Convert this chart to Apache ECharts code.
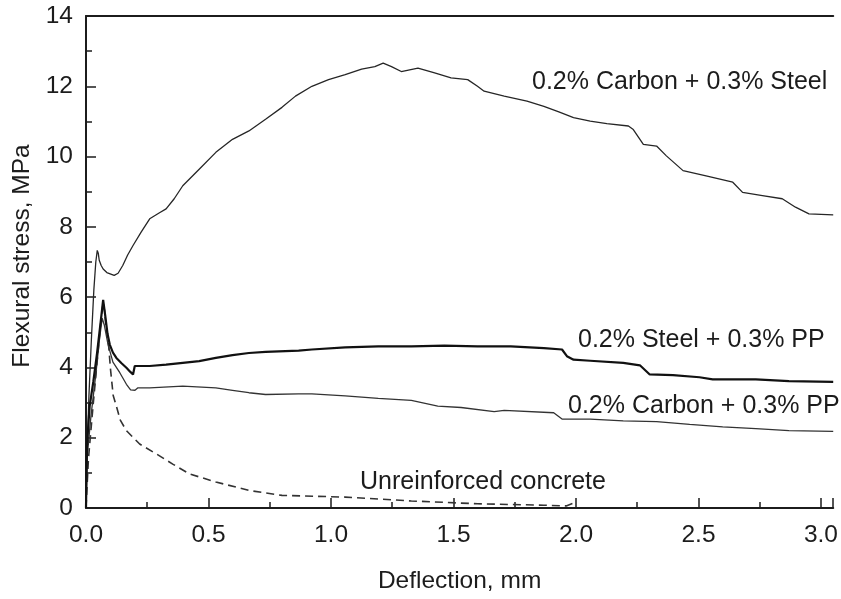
<!DOCTYPE html>
<html>
<head>
<meta charset="utf-8">
<script src="https://cdn.jsdelivr.net/npm/echarts@6/dist/echarts.min.js"></script>
<style>
  html, body { margin: 0; padding: 0; background: #fff; }
  #chart { width: 841px; height: 599px; }
</style>
</head>
<body>
<div id="chart"></div>
<script>
// Flexural stress vs. deflection for four fibre mixes, [deflection mm, stress MPa]
const carbonSteel = [
  [0,0],[0.004,1.5],[0.012,3.2],[0.022,4.8],[0.032,6.2],[0.04,7.0],[0.046,7.33],[0.05,7.25],
  [0.054,7.05],[0.062,6.9],[0.07,6.8],[0.085,6.7],[0.104,6.65],[0.115,6.62],[0.131,6.68],
  [0.15,6.9],[0.17,7.2],[0.192,7.47],[0.225,7.85],[0.26,8.23],[0.3,8.4],[0.327,8.51],
  [0.36,8.8],[0.395,9.17],[0.462,9.64],[0.53,10.12],[0.598,10.49],[0.665,10.73],[0.733,11.06],
  [0.80,11.4],[0.855,11.72],[0.922,12.0],[0.99,12.19],[1.058,12.33],[1.125,12.49],[1.179,12.56],
  [1.213,12.66],[1.247,12.56],[1.287,12.42],[1.355,12.52],[1.423,12.38],[1.49,12.24],[1.558,12.19],
  [1.598,12.0],[1.625,11.86],[1.707,11.72],[1.80,11.58],[1.869,11.43],[1.93,11.27],[1.99,11.11],
  [2.058,11.01],[2.126,10.94],[2.214,10.87],[2.234,10.77],[2.275,10.35],[2.329,10.30],[2.369,10.02],
  [2.437,9.60],[2.531,9.45],[2.64,9.27],[2.68,8.98],[2.761,8.89],[2.842,8.80],[2.896,8.56],
  [2.951,8.37],[3.05,8.34]
];
const steelPP = [
  [0,0],[0.004,1.8],[0.015,2.9],[0.03,3.6],[0.045,4.4],[0.06,5.3],[0.07,5.92],[0.078,5.5],
  [0.088,4.95],[0.097,4.65],[0.11,4.42],[0.124,4.27],[0.145,4.12],[0.165,3.99],[0.18,3.88],
  [0.192,3.80],[0.199,4.04],[0.26,4.04],[0.327,4.08],[0.395,4.13],[0.462,4.18],[0.53,4.27],
  [0.598,4.35],[0.665,4.41],[0.733,4.44],[0.868,4.48],[0.922,4.51],[1.058,4.57],[1.193,4.60],
  [1.328,4.60],[1.463,4.62],[1.598,4.60],[1.734,4.60],[1.869,4.55],[1.943,4.51],[1.963,4.32],
  [1.99,4.22],[2.058,4.19],[2.193,4.13],[2.261,4.06],[2.301,3.80],[2.396,3.78],[2.504,3.72],
  [2.558,3.66],[2.734,3.66],[2.869,3.61],[3.05,3.59]
];
const carbonPP = [
  [0,0],[0.004,1.4],[0.02,2.6],[0.04,3.8],[0.055,4.8],[0.066,5.4],[0.075,5.2],[0.09,4.65],
  [0.11,4.15],[0.138,3.85],[0.165,3.52],[0.182,3.36],[0.19,3.31],[0.2,3.35],[0.212,3.42],[0.26,3.42],
  [0.395,3.47],[0.53,3.42],[0.598,3.35],[0.665,3.28],[0.733,3.23],[0.868,3.25],[0.922,3.25],
  [1.058,3.19],[1.193,3.12],[1.328,3.06],[1.436,2.90],[1.531,2.86],[1.666,2.74],[1.707,2.78],
  [1.909,2.71],[1.943,2.53],[2.058,2.53],[2.193,2.48],[2.329,2.46],[2.464,2.38],[2.599,2.31],
  [2.734,2.26],[2.869,2.20],[3.05,2.18]
];
const plainConcrete = [
  [0,0],[0.01,1.4],[0.03,3.0],[0.05,4.5],[0.062,5.4],[0.07,5.85],[0.076,5.6],[0.082,5.15],
  [0.09,4.84],[0.1,3.95],[0.111,3.2],[0.124,2.9],[0.14,2.5],[0.165,2.20],[0.219,1.82],
  [0.287,1.54],[0.354,1.25],[0.422,0.97],[0.53,0.74],[0.665,0.50],[0.80,0.36],[1.058,0.31],
  [1.328,0.20],[1.598,0.12],[1.869,0.08],[1.96,0.06],[1.99,0.14]
];

const curveLabels = [
  '0.2% Carbon + 0.3% Steel',
  '0.2% Steel + 0.3% PP',
  '0.2% Carbon + 0.3% PP',
  'Unreinforced concrete'
];
const xTitle = 'Deflection, mm';
const yTitle = 'Flexural stress, MPa';

const FONT = '"Liberation Sans", Arial, Helvetica, sans-serif';
const INK = '#1c1c1c';

const chart = echarts.init(document.getElementById('chart'), null, { renderer: 'canvas' });

const axisLineStyle = { color: INK, width: 2 };

const option = {
  animation: false,
  backgroundColor: '#fff',
  grid: { left: 86, right: 3, top: 16, bottom: 88, containLabel: false },
  xAxis: [{
    type: 'value',
    min: 0, max: 3.05, interval: 0.5,
    name: xTitle, nameLocation: 'middle', nameGap: 61,
    nameTextStyle: { fontFamily: FONT, fontSize: 24.5, color: INK },
    axisLine: { show: true, onZero: false, lineStyle: axisLineStyle },
    axisTick: { show: true, inside: true, length: 10, lineStyle: { color: INK, width: 1.5 } },
    minorTick: { show: true, splitNumber: 2, length: 6, lineStyle: { color: INK, width: 1.5 } },
    axisLabel: {
      margin: 15, fontFamily: FONT, fontSize: 24.5, color: INK,
      formatter: v => Math.abs(v * 2 - Math.round(v * 2)) < 1e-6 ? v.toFixed(1) : ''
    },
    splitLine: { show: false }
  }, {
    type: 'value', position: 'top',
    min: 0, max: 3.05,
    axisLine: { show: true, onZero: false, lineStyle: axisLineStyle },
    axisTick: { show: false }, axisLabel: { show: false }, splitLine: { show: false }
  }],
  yAxis: {
    type: 'value',
    min: 0, max: 14, interval: 2,
    name: yTitle, nameLocation: 'middle', nameGap: 51, nameRotate: 90,
    nameTextStyle: { fontFamily: FONT, fontSize: 24.5, color: INK, padding: [0, 0, 0, 12] },
    axisLine: { show: true, onZero: false, lineStyle: axisLineStyle },
    axisTick: { show: true, inside: true, length: 10, lineStyle: { color: INK, width: 1.5 } },
    minorTick: { show: true, splitNumber: 2, length: 6, lineStyle: { color: INK, width: 1.5 } },
    axisLabel: { margin: 13, fontFamily: FONT, fontSize: 24.5, color: INK },
    splitLine: { show: false }
  },
  series: [
    {
      name: curveLabels[0], type: 'line', data: carbonSteel, showSymbol: false,
      lineStyle: { color: '#262626', width: 1.3 }, z: 3
    },
    {
      name: curveLabels[1], type: 'line', data: steelPP, showSymbol: false,
      lineStyle: { color: '#111', width: 2.2 }, z: 4
    },
    {
      name: curveLabels[2], type: 'line', data: carbonPP, showSymbol: false,
      lineStyle: { color: '#333', width: 1.3 }, z: 2
    },
    {
      name: curveLabels[3], type: 'line', data: plainConcrete, showSymbol: false,
      lineStyle: { color: '#333', width: 1.6, type: [8, 5] }, z: 1
    }
  ],
  graphic: [
    { type: 'text', left: 532, top: 70, style: { text: curveLabels[0], font: '25px ' + FONT, fill: INK } },
    { type: 'text', left: 578, top: 328, style: { text: curveLabels[1], font: '25px ' + FONT, fill: INK } },
    { type: 'text', left: 568, top: 394, style: { text: curveLabels[2], font: '25px ' + FONT, fill: INK } },
    { type: 'text', left: 360, top: 470, style: { text: curveLabels[3], font: '25px ' + FONT, fill: INK } }
  ]
};

chart.setOption(option);
</script>
</body>
</html>
